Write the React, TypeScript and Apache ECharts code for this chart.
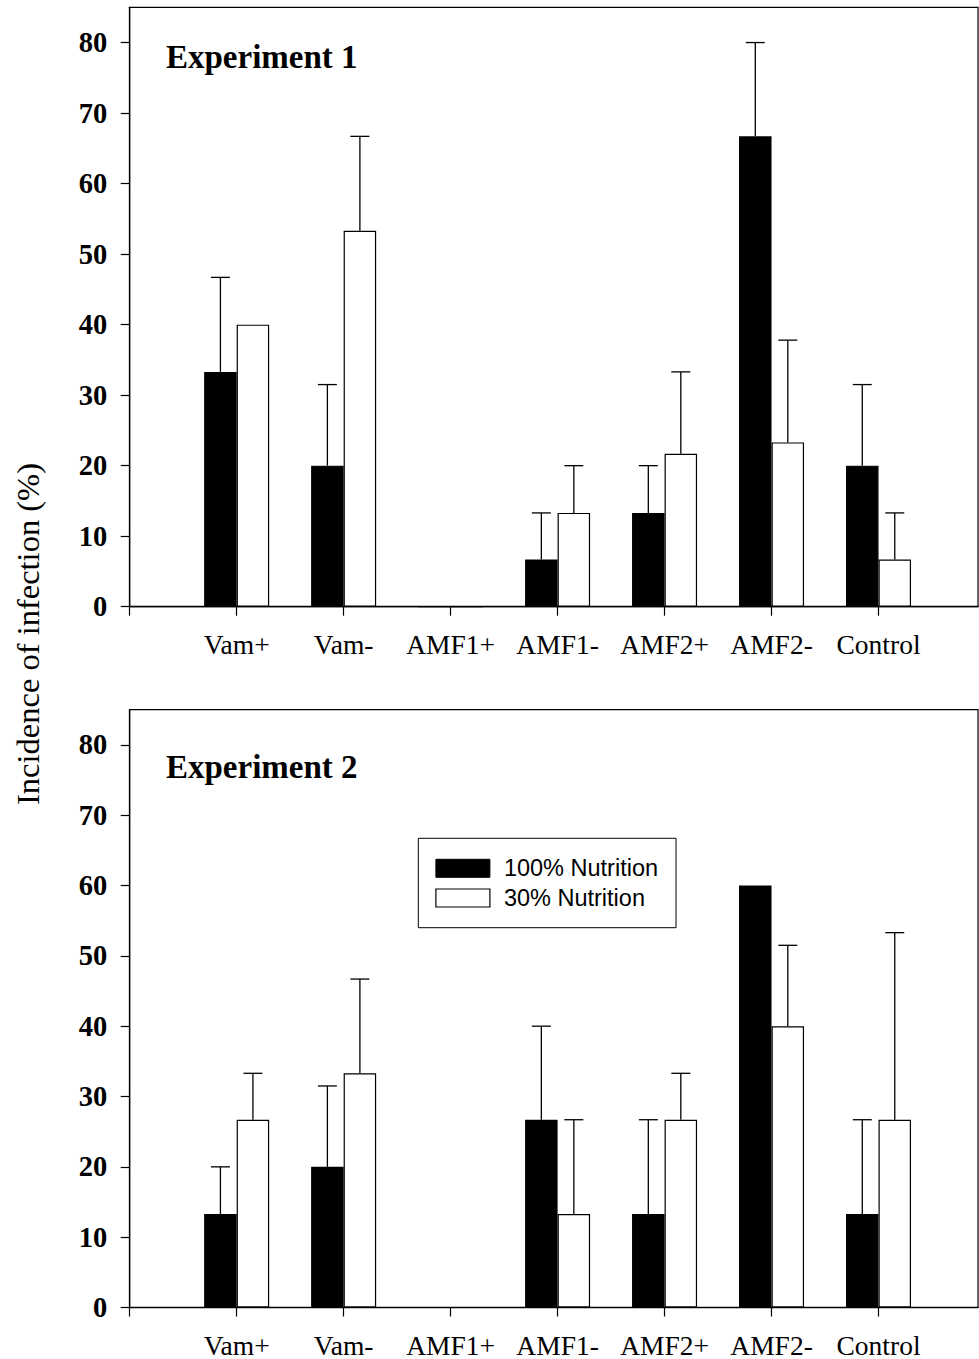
import React, { useEffect, useRef } from "react";
import * as echarts from "echarts";

const categories = ["Vam+", "Vam-", "AMF1+", "AMF1-", "AMF2+", "AMF2-", "Control"];
const seriesNames = ["100% Nutrition", "30% Nutrition"];
const yTicks = [0, 10, 20, 30, 40, 50, 60, 70, 80];
const panelTitles = ["Experiment 1", "Experiment 2"];
const yTitle = "Incidence of infection (%)";

// Experiment 1
const exp1Full = [33.3, 20, 0, 6.7, 13.3, 66.7, 20];
const exp1FullErr = [13.4, 11.5, 0, 6.6, 6.7, 13.3, 11.5];
const exp1Low = [40, 53.3, 0, 13.3, 21.7, 23.3, 6.7];
const exp1LowErr = [0, 13.4, 0, 6.7, 11.6, 14.5, 6.6];

// Experiment 2
const exp2Full = [13.3, 20, 0, 26.7, 13.3, 60, 13.3];
const exp2FullErr = [6.7, 11.5, 0, 13.3, 13.4, 0, 13.4];
const exp2Low = [26.7, 33.3, 0, 13.3, 26.7, 40, 26.7];
const exp2LowErr = [6.6, 13.4, 0, 13.4, 6.6, 11.5, 26.6];

const SERIF = "'Liberation Serif', 'Times New Roman', serif";
const SANS = "'Liberation Sans', Arial, sans-serif";
const BAR_W = 32.5;

export default function App() {
  const ref = useRef<HTMLDivElement>(null);

  useEffect(() => {
    if (!ref.current) return;
    const chart = echarts.init(ref.current, undefined, { renderer: "svg" });

    const tickPositions = [0, ...categories.map((_, i) => i + 1)];
    const labelPositions = categories.map((_, i) => i + 1);

    const grids = [
      { left: 129.7, top: 7.3, width: 848.3, height: 599.4 },
      { left: 129.7, top: 709.7, width: 848.3, height: 599.6 },
    ].map((g) => ({ ...g, show: true, borderColor: "#000", borderWidth: 1.2, backgroundColor: "transparent" }));

    const xAxes = [0, 1].map((gi) => ({
      type: "value",
      gridIndex: gi,
      min: 0,
      max: 7.93,
      interval: 1,
      splitLine: { show: false },
      axisLine: { show: true, onZero: false, lineStyle: { color: "#000", width: 1.3 } },
      axisTick: {
        show: true,
        inside: false,
        length: 9,
        customValues: tickPositions,
        lineStyle: { color: "#000", width: 1.2 },
      },
      axisLabel: {
        show: true,
        customValues: labelPositions,
        margin: 23.5,
        color: "#000",
        fontFamily: SERIF,
        fontSize: 27.5,
        formatter: (v: number) => categories[Math.round(v) - 1] ?? "",
      },
    }));

    const yAxes = [0, 1].map((gi) => ({
      type: "value",
      gridIndex: gi,
      min: 0,
      max: 85,
      interval: 10,
      splitLine: { show: false },
      axisLine: { show: true, lineStyle: { color: "#000", width: 1.3 } },
      axisTick: {
        show: true,
        inside: false,
        length: 9,
        customValues: yTicks,
        lineStyle: { color: "#000", width: 1.2 },
      },
      axisLabel: {
        show: true,
        customValues: yTicks,
        margin: 22.5,
        color: "#000",
        fontFamily: SERIF,
        fontWeight: "bold",
        fontSize: 28.5,
      },
    }));

    const barSeries = (name: string, values: number[], gi: number, fill: string) => ({
      type: "bar",
      name,
      xAxisIndex: gi,
      yAxisIndex: gi,
      barWidth: BAR_W,
      barGap: "0%",
      itemStyle: { color: fill, borderColor: "#000", borderWidth: 1.2 },
      emphasis: { disabled: true },
      data: values.map((v, i) => [i + 1, v]),
      z: 2,
    });

    const errSeries = (values: number[], errs: number[], gi: number, offset: number) => ({
      type: "custom",
      xAxisIndex: gi,
      yAxisIndex: gi,
      z: 5,
      silent: true,
      data: values.map((v, i) => [i + 1, v, errs[i]]),
      encode: { x: 0, y: 1 },
      renderItem: (params: any, api: any) => {
        const err = api.value(2);
        if (!err) return null;
        const x = api.value(0);
        const mean = api.value(1);
        const p0 = api.coord([x, mean]);
        const p1 = api.coord([x, mean + err]);
        const cx = p0[0] + offset;
        const style = { stroke: "#000", lineWidth: 1.3 };
        return {
          type: "group",
          children: [
            { type: "line", shape: { x1: cx, y1: p0[1], x2: cx, y2: p1[1] }, style },
            { type: "line", shape: { x1: cx - 9.5, y1: p1[1], x2: cx + 9.5, y2: p1[1] }, style },
          ],
        };
      },
    });

    const option: any = {
      animation: false,
      grid: grids,
      xAxis: xAxes,
      yAxis: yAxes,
      legend: {
        show: true,
        orient: "vertical",
        left: 418.3,
        top: 838.3,
        padding: [18, 18, 17.7, 17],
        itemWidth: 54,
        itemHeight: 18,
        itemGap: 5.7,
        borderColor: "#000",
        borderWidth: 1,
        selectedMode: false,
        textStyle: {
          fontFamily: SANS,
          fontSize: 23.5,
          color: "#000",
          lineHeight: 18,
          padding: [0, 0, 0, 9],
        },
        data: [
          { name: seriesNames[0], icon: "rect", itemStyle: { color: "#000", borderColor: "#000", borderWidth: 1 } },
          { name: seriesNames[1], icon: "rect", itemStyle: { color: "#fff", borderColor: "#000", borderWidth: 1.2 } },
        ],
      },
      graphic: [
        {
          type: "text",
          left: 166,
          top: 40,
          style: { text: panelTitles[0], font: `bold 33px ${SERIF}`, fill: "#000" },
        },
        {
          type: "text",
          left: 166,
          top: 750,
          style: { text: panelTitles[1], font: `bold 33px ${SERIF}`, fill: "#000" },
        },
        {
          type: "text",
          x: 27.8,
          y: 634,
          rotation: Math.PI / 2,
          style: {
            text: yTitle,
            font: `32.5px ${SERIF}`,
            fill: "#000",
            align: "center",
            verticalAlign: "middle",
          },
        },
      ],
      series: [
        barSeries(seriesNames[0], exp1Full, 0, "#000"),
        barSeries(seriesNames[1], exp1Low, 0, "#fff"),
        barSeries(seriesNames[0], exp2Full, 1, "#000"),
        barSeries(seriesNames[1], exp2Low, 1, "#fff"),
        errSeries(exp1Full, exp1FullErr, 0, -BAR_W / 2),
        errSeries(exp1Low, exp1LowErr, 0, BAR_W / 2),
        errSeries(exp2Full, exp2FullErr, 1, -BAR_W / 2),
        errSeries(exp2Low, exp2LowErr, 1, BAR_W / 2),
      ],
    };

    chart.setOption(option);
    return () => chart.dispose();
  }, []);

  return (
    <div
      ref={ref}
      style={{ position: "absolute", left: 0, top: 0, width: 979, height: 1359, background: "#fff" }}
    />
  );
}
